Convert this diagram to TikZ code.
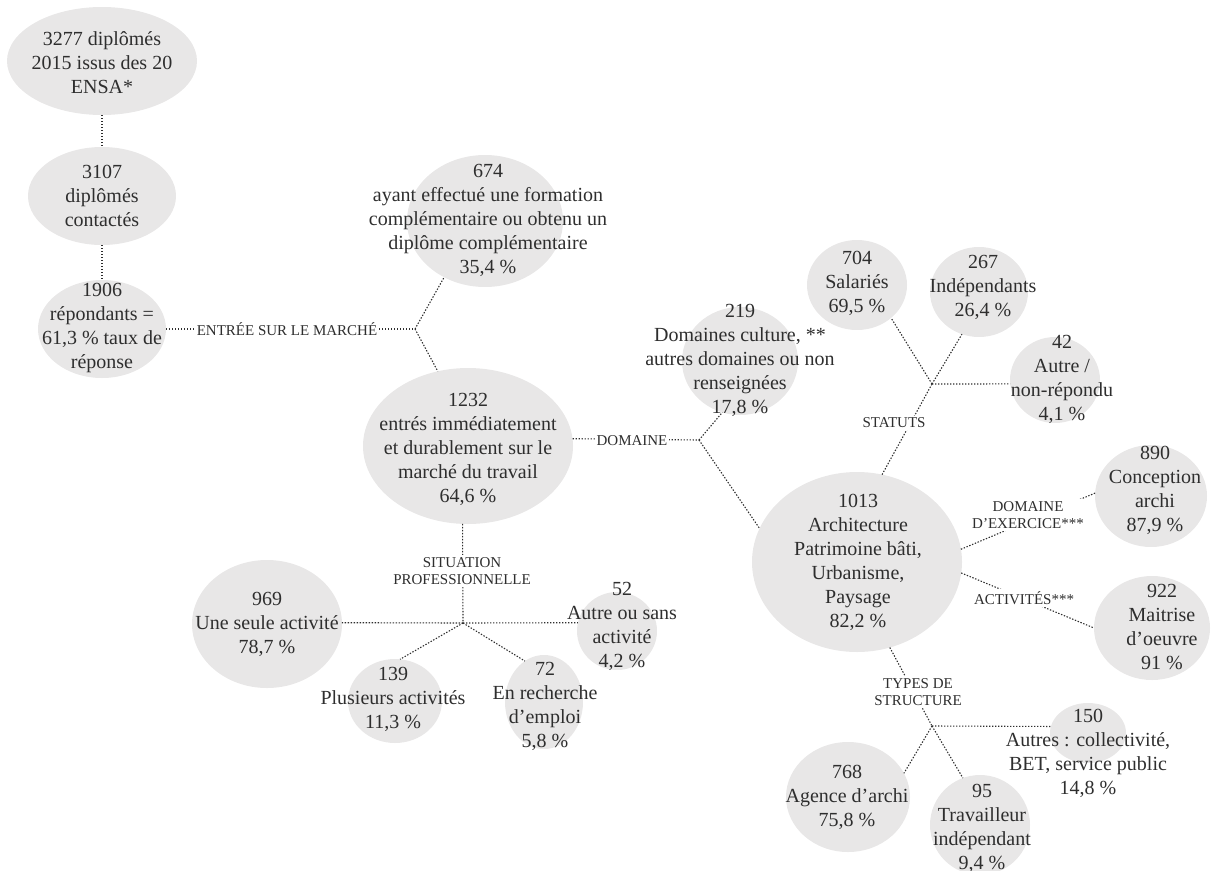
\documentclass[tikz,border=0pt]{standalone}
\usepackage{fontspec}
\setmainfont{Liberation Serif}
\usetikzlibrary{shapes.geometric}
\definecolor{bubblegray}{HTML}{E8E7E7}
\definecolor{inkgray}{HTML}{2E2E2E}

\begin{document}
\begin{tikzpicture}[x=1pt, y=-1pt,
    every node/.style={text=inkgray},
    bubble/.style={ellipse, fill=bubblegray, inner sep=0pt, outer sep=0pt},
    txt/.style={align=center, font=\fontsize{20}{24}\selectfont},
    tag/.style={align=center, fill=white, inner sep=2pt, font=\fontsize{15}{17}\selectfont},
    link/.style={draw=inkgray, line width=1.1pt, dash pattern=on 1.4pt off 1.6pt}]
    \useasboundingbox (0,0) rectangle (1214,870);

    % Bubbles: name/x/y/width/height
    \foreach \n/\x/\y/\w/\h in {3277/102/61/190/108, 3107/102/196/148/98, 1906/102/329/128/98,
        674/485/221/156/132, 1232/468/446/210/156, 219/740/361/116/108, 1013/857/562/210/180,
        704/857/285/100/90, 267/979/292/98/90, 42/1055/380/90/86, 890/1151/496/112/102,
        922/1152/628/116/104, 969/267/624/150/128, 139/395/701/94/84, 72/544/702/78/94,
        52/617/631/80/78, 768/848/797/124/110, 95/980/825/100/100, 150/1088/733/76/60} {
        \node[bubble, minimum width=\w, minimum height=\h] (b\n) at (\x,\y) {};
    }

    % Branch points
    \coordinate (jEntree) at (415,329);
    \coordinate (jDomaine) at (699,440);
    \coordinate (jStatuts) at (932,384);
    \coordinate (jSituation) at (463,623);
    \coordinate (jTypes) at (932,726);

    % Dotted connectors
    \draw[link] (b3277.south) -- (b3107.north);
    \draw[link] (b3107.south) -- (b1906.north);
    \draw[link] (b1906.east) -- (jEntree);
    \draw[link] (jEntree) -- (b674.234);
    \draw[link] (jEntree) -- (b1232.112);
    \draw[link] (b1232.4) -- (jDomaine);
    \draw[link] (jDomaine) -- (b219.251);
    \draw[link] (jDomaine) -- (b1013.161);
    \draw[link] (b1232.266) -- (jSituation);
    \draw[link] (jSituation) -- (b969.1);
    \draw[link] (jSituation) -- (b52.168);
    \draw[link] (jSituation) -- (b139.83);
    \draw[link] (jSituation) -- (b72.115);
    \draw[link] (b1013.74) -- (jStatuts);
    \draw[link] (jStatuts) -- (b704.316);
    \draw[link] (jStatuts) -- (b267.248);
    \draw[link] (jStatuts) -- (b42.185);
    \draw[link] (b1013.7) -- (b890.177);
    \draw[link] (b1013.354) -- (b922.180);
    \draw[link] (b1013.291) -- (jTypes);
    \draw[link] (jTypes) -- (b150.170);
    \draw[link] (jTypes) -- (b768.23);
    \draw[link] (jTypes) -- (b95.110);

    % Branch labels
    \node[tag] (lEntree) at (287,329) {ENTRÉE SUR LE MARCHÉ};
    \node[tag] (lDomaine) at (632,441) {DOMAINE};
    \node[tag] (lSituation) at (462,571) {SITUATION\\PROFESSIONNELLE};
    \node[tag] (lStatuts) at (894,423) {STATUTS};
    \node[tag] (lExercice) at (1028,515) {DOMAINE\\D’EXERCICE***};
    \node[tag] (lActivites) at (1024,598) {ACTIVITÉS***};
    \node[tag] (lTypes) at (918,692) {TYPES DE\\STRUCTURE};

    % Bubble texts
    \node[txt] (t3277) at (102,63) {3277 diplômés\\2015 issus des 20\\ENSA*};
    \node[txt] (t3107) at (102,196) {3107\\diplômés\\contactés};
    \node[txt] (t1906) at (102,328) {1906\\répondants =\\61,3 \% taux de\\réponse};
    \node[txt] (t674) at (488,220) {674\\ayant effectué une formation\\complémentaire ou obtenu un\\diplôme complémentaire\\35,4 \%};
    \node[txt] (t1232) at (468,449) {1232\\entrés immédiatement\\et durablement sur le\\marché du travail\\64,6 \%};
    \node[txt] (t219) at (740,360) {219\\Domaines culture, **\\autres domaines ou non\\renseignées\\17,8 \%};
    \node[txt] (t1013) at (858,562) {1013\\Architecture\\Patrimoine bâti,\\Urbanisme,\\Paysage\\82,2 \%};
    \node[txt] (t704) at (857,283) {704\\Salariés\\69,5 \%};
    \node[txt] (t267) at (983,287) {267\\Indépendants\\26,4 \%};
    \node[txt] (t42) at (1062,379) {42\\Autre /\\non-répondu\\4,1 \%};
    \node[txt] (t890) at (1155,490) {890\\Conception\\archi\\87,9 \%};
    \node[txt] (t922) at (1162,627) {922\\Maitrise\\d’oeuvre\\91 \%};
    \node[txt] (t969) at (267,624) {969\\Une seule activité\\78,7 \%};
    \node[txt] (t139) at (393,699) {139\\Plusieurs activités\\11,3 \%};
    \node[txt] (t72) at (545,706) {72\\En recherche\\d’emploi\\5,8 \%};
    \node[txt] (t52) at (622,626) {52\\Autre ou sans\\activité\\4,2 \%};
    \node[txt] (t768) at (847,797) {768\\Agence d’archi\\75,8 \%};
    \node[txt] (t95) at (982,828) {95\\Travailleur\\indépendant\\9,4 \%};
    \node[txt] (t150) at (1088,753) {150\\Autres : collectivité,\\BET, service public\\14,8 \%};
\end{tikzpicture}
\end{document}
